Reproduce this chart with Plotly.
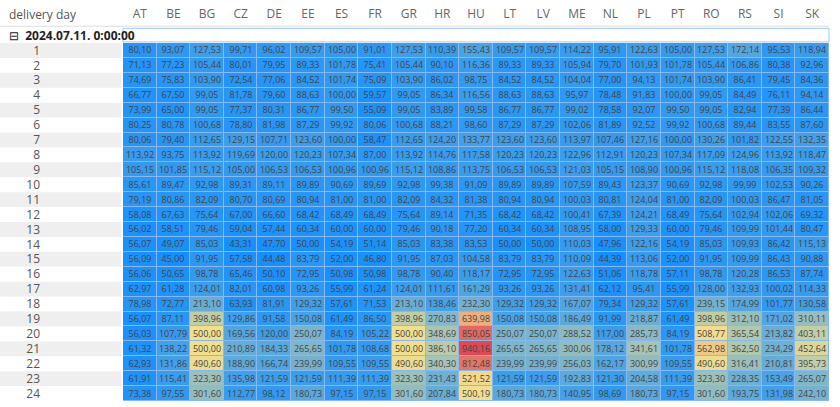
import plotly.graph_objects as go

countries = ["AT","BE","BG","CZ","DE","EE","ES","FR","GR","HR","HU","LT","LV","ME","NL","PL","PT","RO","RS","SI","SK"]
hours = [str(i) for i in range(1, 25)]

AT = [80.10,71.13,74.69,66.77,73.99,80.25,80.06,113.92,105.15,85.61,79.19,58.08,56.02,56.07,56.09,56.06,62.97,78.98,56.07,56.03,61.32,62.93,61.91,73.38]
BE = [93.07,77.23,75.83,67.50,65.00,80.78,79.40,93.75,101.85,89.47,80.86,67.63,58.51,49.07,45.00,50.65,61.28,72.77,87.11,107.79,138.22,131.86,115.41,97.55]
BG = [127.53,105.44,103.90,99.05,99.05,100.68,112.65,113.92,115.12,92.98,82.09,75.64,79.46,85.03,91.95,98.78,124.01,213.10,398.96,500.00,500.00,490.60,323.30,301.60]
CZ = [99.71,80.01,72.54,81.78,77.37,78.80,129.15,119.69,105.00,89.31,80.70,67.00,59.04,43.31,57.58,65.46,82.01,63.93,129.86,169.56,210.89,188.90,135.98,112.77]
DE = [96.02,79.95,77.06,79.60,80.31,81.98,107.71,120.00,106.53,89.11,80.69,66.60,57.44,47.70,44.48,50.10,60.98,81.91,91.58,120.00,184.33,166.74,121.59,98.12]
EE = [109.57,89.33,84.52,88.63,86.77,87.29,123.60,120.23,106.53,89.89,80.94,68.42,60.34,50.00,83.79,72.95,93.26,129.32,150.08,250.07,265.65,239.99,121.59,180.73]
ES = [105.00,101.78,101.74,100.00,99.50,99.92,100.00,107.34,100.96,90.69,81.00,68.49,60.00,54.19,52.00,50.98,55.99,57.61,61.49,84.19,101.78,109.55,111.39,97.15]
FR = [91.01,75.41,75.09,59.57,55.09,80.06,58.47,87.00,100.96,89.69,81.00,68.49,60.00,51.14,46.80,50.98,61.24,71.53,86.50,105.22,108.68,109.55,111.39,97.15]
GR = [127.53,105.44,103.90,99.05,99.05,100.68,112.65,113.92,115.12,92.98,82.09,75.64,79.46,85.03,91.95,98.78,124.01,213.10,398.96,500.00,500.00,490.60,323.30,301.60]
HR = [110.39,90.10,86.02,86.34,83.89,88.21,124.20,114.76,108.86,99.38,84.32,89.14,90.18,83.38,87.03,90.40,111.61,138.46,270.83,348.69,386.10,340.30,231.43,207.84]
HU = [155.43,116.36,98.75,116.56,99.58,98.60,133.77,117.58,113.75,91.09,81.38,71.35,77.20,83.53,104.58,118.17,161.29,232.30,639.98,850.05,940.16,812.48,521.52,500.19]
LT = [109.57,89.33,84.52,88.63,86.77,87.29,123.60,120.23,106.53,89.89,80.94,68.42,60.34,50.00,83.79,72.95,93.26,129.32,150.08,250.07,265.65,239.99,121.59,180.73]
LV = [109.57,89.33,84.52,88.63,86.77,87.29,123.60,120.23,106.53,89.89,80.94,68.42,60.34,50.00,83.79,72.95,93.26,129.32,150.08,250.07,265.65,239.99,121.59,180.73]
ME = [114.22,105.94,104.04,95.97,99.02,102.06,113.97,122.96,121.03,107.59,100.03,100.41,108.95,110.03,110.09,122.63,131.41,167.07,186.49,288.52,300.06,256.03,192.83,140.95]
NL = [95.91,79.70,77.00,78.48,78.58,81.89,107.46,112.91,105.15,89.43,80.81,67.39,58.00,47.96,44.39,51.06,62.12,79.34,91.99,117.00,178.12,162.17,121.30,98.69]
PL = [122.63,101.93,94.13,91.83,92.07,92.52,127.16,120.23,108.90,123.37,124.04,124.21,129.33,122.16,113.06,118.78,95.41,129.32,218.87,285.73,341.61,300.99,204.58,180.73]
PT = [105.00,101.78,101.74,100.00,99.50,99.92,100.00,107.34,100.96,90.69,81.00,68.49,60.00,54.19,52.00,57.11,55.99,57.61,61.49,84.19,101.78,109.55,111.39,97.15]
RO = [127.53,105.44,103.90,99.05,99.05,100.68,130.26,117.09,115.12,92.98,82.09,75.64,79.46,85.03,91.95,98.78,128.00,239.15,398.96,508.77,562.98,490.60,323.30,301.60]
RS = [172.14,106.86,86.41,84.49,82.94,89.44,101.82,124.96,118.08,99.99,100.03,102.94,109.99,109.93,109.99,120.28,132.93,174.99,312.10,365.54,362.50,316.41,228.35,193.75]
SI = [95.53,80.38,79.45,76.11,77.39,83.55,122.55,113.92,106.35,102.53,86.47,102.06,101.44,86.42,86.43,86.53,100.02,101.77,171.02,213.82,234.29,210.81,153.49,131.98]
SK = [118.94,92.96,84.36,94.14,86.44,87.60,132.35,118.47,109.32,90.26,81.05,69.32,80.47,115.13,90.88,87.74,114.33,130.58,310.11,403.11,452.64,395.73,265.07,242.10]

cols = [AT,BE,BG,CZ,DE,EE,ES,FR,GR,HR,HU,LT,LV,ME,NL,PL,PT,RO,RS,SI,SK]
z = [[c[i] for c in cols] for i in range(24)]
txt = [[f"{v:.2f}".replace(".", ",") for v in row] for row in z]

zmin, zmax = 43.31, 940.16
mid = (500 - zmin) / (zmax - zmin)
fig = go.Figure(go.Heatmap(
    z=z, x=countries, y=hours, text=txt, texttemplate="%{text}",
    textfont=dict(size=9, color="#444444", family="Open Sans"),
    colorscale=[[0, "#168FFF"], [mid, "#F2DF8E"], [1, "#DD4A55"]],
    zmin=zmin, zmax=zmax, showscale=False, xgap=1, ygap=1, hoverinfo="skip"))

shapes = []
for i in range(0, 24, 2):
    shapes.append(dict(type="rect", xref="paper", yref="y", x0=-0.175, x1=-0.002,
                       y0=i - 0.5, y1=i + 0.5, fillcolor="#efefef", line_width=0, layer="below"))
shapes.append(dict(type="rect", xref="paper", yref="paper", x0=0.0, x1=1.0, y0=1.003, y1=1.041,
                   line=dict(color="#9cc8f5", width=1), fillcolor="white"))
shapes.append(dict(type="line", xref="paper", yref="paper", x0=-0.175, x1=1.0, y0=1.047, y1=1.047,
                   line=dict(color="#dddddd", width=1)))

fig.update_layout(
    width=840, height=407, margin=dict(l=123, r=11, t=39, b=5),
    paper_bgcolor="white", plot_bgcolor="#86b9f0",
    font=dict(family="Open Sans", color="#555"),
    shapes=shapes,
    xaxis=dict(side="top", showgrid=False, zeroline=False, ticks="", ticklabelstandoff=22,
               tickfont=dict(size=12, color="#666")),
    yaxis=dict(autorange="reversed", showgrid=False, zeroline=False, ticks="",
               ticklabelstandoff=82, tickfont=dict(size=12, color="#555")),
    annotations=[
        dict(text="delivery day", xref="paper", yref="paper", x=-0.165, y=1.08, xanchor="left",
             yanchor="middle", showarrow=False, font=dict(size=12, color="#555")),
        dict(text="⊟  <b>2024.07.11. 0:00:00</b>", xref="paper", yref="paper", x=-0.165, y=1.022,
             xanchor="left", yanchor="middle", showarrow=False, font=dict(size=12, color="#222")),
    ],
)
fig.write_html("out.html", config={"displayModeBar": False},
               post_script="document.body.style.margin='0';document.body.style.overflow='hidden';")
